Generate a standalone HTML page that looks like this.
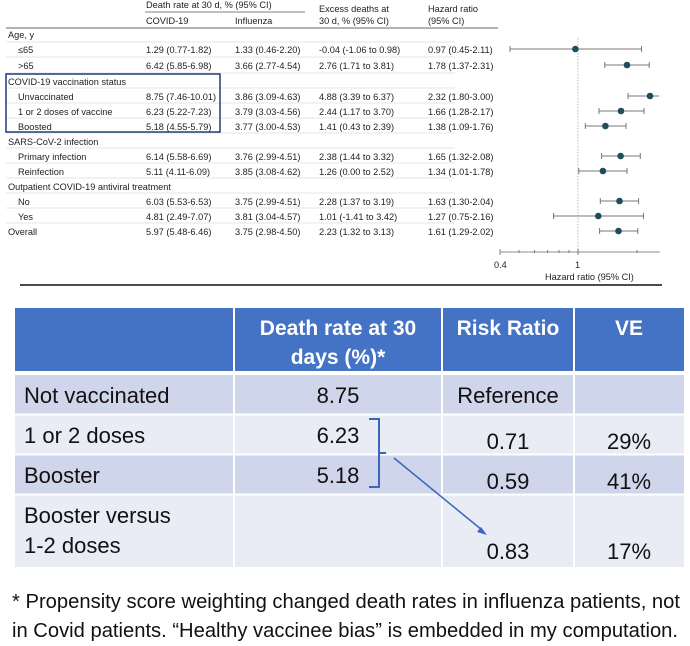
<!DOCTYPE html>
<html><head><meta charset="utf-8"><style>
body{margin:0;background:#fff}
svg{display:block}
.t{font-family:"Liberation Sans",sans-serif;font-size:9.2px;fill:#222}
.h{font-family:"Liberation Sans",sans-serif;font-size:9.2px;fill:#222}
.w{font-family:"Liberation Sans",sans-serif;font-size:21px;font-weight:bold;fill:#fff}
.b{font-family:"Liberation Sans",sans-serif;font-size:22px;fill:#111}
.f{font-family:"Liberation Sans",sans-serif;font-size:20px;fill:#111}
</style></head><body>
<svg width="690" height="646" viewBox="0 0 690 646" xmlns="http://www.w3.org/2000/svg">
<text class="h" x="146" y="8">Death rate at 30 d, % (95% CI)</text>
<line x1="145" y1="12" x2="305" y2="12" stroke="#555" stroke-width="0.8"/>
<text class="h" x="146" y="24">COVID-19</text>
<text class="h" x="235" y="24">Influenza</text>
<text class="h" x="319" y="12">Excess deaths at</text>
<text class="h" x="319" y="24">30 d, % (95% CI)</text>
<text class="h" x="428" y="12">Hazard ratio</text>
<text class="h" x="428" y="24">(95% CI)</text>
<line x1="6" y1="28" x2="498" y2="28" stroke="#333" stroke-width="0.8"/>
<g stroke="#ccc" stroke-width="0.6">
<line x1="6" y1="42" x2="455" y2="42"/><line x1="6" y1="57" x2="455" y2="57"/><line x1="6" y1="73" x2="455" y2="73"/>
<line x1="6" y1="88" x2="455" y2="88"/><line x1="6" y1="103" x2="455" y2="103"/><line x1="6" y1="118" x2="455" y2="118"/>
<line x1="6" y1="133" x2="455" y2="133"/><line x1="6" y1="148" x2="455" y2="148"/><line x1="6" y1="163" x2="455" y2="163"/>
<line x1="6" y1="178" x2="455" y2="178"/><line x1="6" y1="193" x2="455" y2="193"/><line x1="6" y1="208" x2="455" y2="208"/>
<line x1="6" y1="223" x2="455" y2="223"/>
</g>
<g class="t">
<text x="8" y="38">Age, y</text>
<text x="18" y="53">≤65</text><text x="146" y="53">1.29 (0.77-1.82)</text><text x="235" y="53">1.33 (0.46-2.20)</text><text x="319" y="53">-0.04 (-1.06 to 0.98)</text><text x="428" y="53">0.97 (0.45-2.11)</text>
<text x="18" y="69">&gt;65</text><text x="146" y="69">6.42 (5.85-6.98)</text><text x="235" y="69">3.66 (2.77-4.54)</text><text x="319" y="69">2.76 (1.71 to 3.81)</text><text x="428" y="69">1.78 (1.37-2.31)</text>
<text x="8" y="85">COVID-19 vaccination status</text>
<text x="18" y="100">Unvaccinated</text><text x="146" y="100" textLength="70">8.75 (7.46-10.01)</text><text x="235" y="100">3.86 (3.09-4.63)</text><text x="319" y="100">4.88 (3.39 to 6.37)</text><text x="428" y="100">2.32 (1.80-3.00)</text>
<text x="18" y="115">1 or 2 doses of vaccine</text><text x="146" y="115">6.23 (5.22-7.23)</text><text x="235" y="115">3.79 (3.03-4.56)</text><text x="319" y="115">2.44 (1.17 to 3.70)</text><text x="428" y="115">1.66 (1.28-2.17)</text>
<text x="18" y="130">Boosted</text><text x="146" y="130">5.18 (4.55-5.79)</text><text x="235" y="130">3.77 (3.00-4.53)</text><text x="319" y="130">1.41 (0.43 to 2.39)</text><text x="428" y="130">1.38 (1.09-1.76)</text>
<text x="8" y="145">SARS-CoV-2 infection</text>
<text x="18" y="160">Primary infection</text><text x="146" y="160">6.14 (5.58-6.69)</text><text x="235" y="160">3.76 (2.99-4.51)</text><text x="319" y="160">2.38 (1.44 to 3.32)</text><text x="428" y="160">1.65 (1.32-2.08)</text>
<text x="18" y="175">Reinfection</text><text x="146" y="175">5.11 (4.11-6.09)</text><text x="235" y="175">3.85 (3.08-4.62)</text><text x="319" y="175">1.26 (0.00 to 2.52)</text><text x="428" y="175">1.34 (1.01-1.78)</text>
<text x="8" y="190">Outpatient COVID-19 antiviral treatment</text>
<text x="18" y="205">No</text><text x="146" y="205">6.03 (5.53-6.53)</text><text x="235" y="205">3.75 (2.99-4.51)</text><text x="319" y="205">2.28 (1.37 to 3.19)</text><text x="428" y="205">1.63 (1.30-2.04)</text>
<text x="18" y="220">Yes</text><text x="146" y="220">4.81 (2.49-7.07)</text><text x="235" y="220">3.81 (3.04-4.57)</text><text x="319" y="220">1.01 (-1.41 to 3.42)</text><text x="428" y="220">1.27 (0.75-2.16)</text>
<text x="8" y="235">Overall</text><text x="146" y="235">5.97 (5.48-6.46)</text><text x="235" y="235">3.75 (2.98-4.50)</text><text x="319" y="235">2.23 (1.32 to 3.13)</text><text x="428" y="235">1.61 (1.29-2.02)</text>
</g>
<rect x="6" y="74" width="214" height="58" fill="none" stroke="#1f3f7a" stroke-width="1.5"/>
<line x1="578" y1="38" x2="578" y2="252" stroke="#aaa" stroke-width="0.8" stroke-dasharray="1.5,1.5"/>
<g stroke="#777" stroke-width="1">
<path d="M510 49H641.5M510 46v6M641.5 46v6"/>
<path d="M604.8 65H649.2M604.8 62v6M649.2 62v6"/>
<path d="M628 96H659M628 93v6"/>
<path d="M599 111H644M599 108v6M644 108v6"/>
<path d="M585.3 126H626M585.3 123v6M626 123v6"/>
<path d="M601.6 156H640.3M601.6 153v6M640.3 153v6"/>
<path d="M578.8 171H627M578.8 168v6M627 168v6"/>
<path d="M600.3 201H638.6M600.3 198v6M638.6 198v6"/>
<path d="M553.5 216H643.5M553.5 213v6M643.5 213v6"/>
<path d="M599.6 231H637.8M599.6 228v6M637.8 228v6"/>
</g>
<g fill="#1e4d5c">
<circle cx="575.4" cy="49" r="3.3"/><circle cx="627" cy="65" r="3.3"/><circle cx="650" cy="96" r="3.3"/>
<circle cx="621" cy="111" r="3.3"/><circle cx="605.4" cy="126" r="3.3"/><circle cx="620.6" cy="156" r="3.3"/>
<circle cx="602.9" cy="171" r="3.3"/><circle cx="619.5" cy="201" r="3.3"/><circle cx="598.3" cy="216" r="3.3"/>
<circle cx="618.5" cy="231" r="3.3"/>
</g>
<g stroke="#666" stroke-width="0.8">
<line x1="500" y1="252" x2="660" y2="252"/>
<path d="M500 249v6M519 250v3M534.5 250v3M547.7 250v3M559 250v3M569 250v3M578 249v6M637 250v3"/>
</g>
<text class="t" x="494" y="268">0.4</text>
<text class="t" x="575" y="268">1</text>
<text class="t" x="545" y="280">Hazard ratio (95% CI)</text>
<line x1="20" y1="285" x2="662" y2="285" stroke="#111" stroke-width="1.5"/>
<rect x="15" y="308" width="669" height="64" fill="#4472C4"/>
<rect x="15" y="374" width="669" height="40" fill="#CFD5EA"/>
<rect x="15" y="415" width="669" height="39" fill="#E9EBF5"/>
<rect x="15" y="455" width="669" height="39" fill="#CFD5EA"/>
<rect x="15" y="495" width="669" height="72" fill="#E9EBF5"/>
<g stroke="#fff" stroke-width="2">
<line x1="234" y1="308" x2="234" y2="567"/><line x1="442" y1="308" x2="442" y2="567"/><line x1="574" y1="308" x2="574" y2="567"/>
<line x1="15" y1="373" x2="684" y2="373" stroke-width="4"/>
<line x1="15" y1="414.5" x2="684" y2="414.5"/><line x1="15" y1="454.5" x2="684" y2="454.5"/><line x1="15" y1="494.5" x2="684" y2="494.5"/>
</g>
<text class="w" x="338" y="335" text-anchor="middle">Death rate at 30</text>
<text class="w" x="338" y="364" text-anchor="middle">days (%)*</text>
<text class="w" x="508" y="335" text-anchor="middle">Risk Ratio</text>
<text class="w" x="629" y="335" text-anchor="middle">VE</text>
<g class="b">
<text x="24" y="403">Not vaccinated</text><text x="338" y="403" text-anchor="middle">8.75</text><text x="508" y="403" text-anchor="middle">Reference</text>
<text x="24" y="443">1 or 2 doses</text><text x="338" y="443" text-anchor="middle">6.23</text><text x="508" y="449" text-anchor="middle">0.71</text><text x="629" y="449" text-anchor="middle">29%</text>
<text x="24" y="483">Booster</text><text x="338" y="483" text-anchor="middle">5.18</text><text x="508" y="489" text-anchor="middle">0.59</text><text x="629" y="489" text-anchor="middle">41%</text>
<text x="24" y="523">Booster versus</text><text x="24" y="553">1-2 doses</text>
<text x="508" y="559" text-anchor="middle">0.83</text><text x="629" y="559" text-anchor="middle">17%</text>
</g>
<path d="M369 419h10v68h-10M379 453h7" fill="none" stroke="#3a66c0" stroke-width="2"/>
<line x1="394" y1="458" x2="482" y2="530" stroke="#3a66c0" stroke-width="1.5"/>
<path d="M487 535l-10-3 4-5z" fill="#3a66c0"/>
<text class="f" x="12" y="608" textLength="668" lengthAdjust="spacingAndGlyphs">* Propensity score weighting changed death rates in influenza patients, not</text>
<text class="f" x="12" y="637" textLength="666" lengthAdjust="spacingAndGlyphs">in Covid patients. “Healthy vaccinee bias” is embedded in my computation.</text>
</svg>
</body></html>
